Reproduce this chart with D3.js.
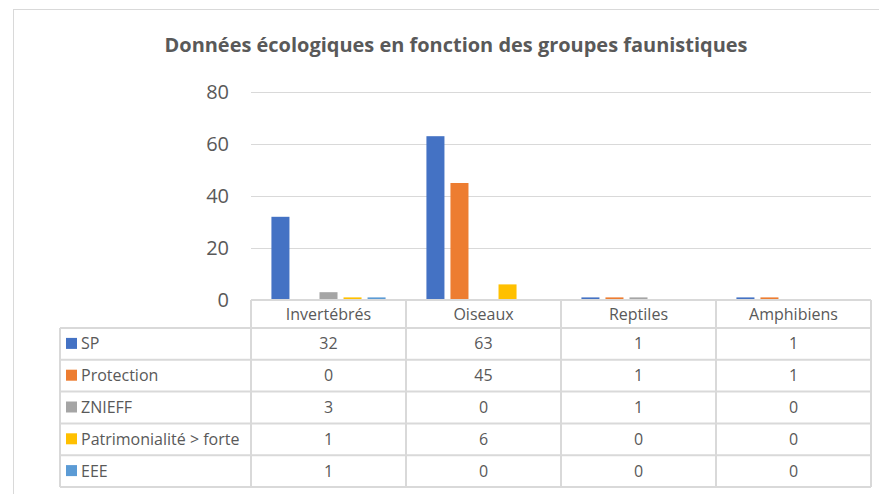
<!DOCTYPE html>
<html>
<head>
<meta charset="utf-8">
<script src="https://cdn.jsdelivr.net/npm/d3@7"></script>
<style>
  body { margin: 0; background: #fff; }
  text { font-family: "Open Sans", sans-serif; fill: #595959; }
</style>
</head>
<body>
<div id="chart"></div>
<script>
// Data
const groups = ["Invertébrés", "Oiseaux", "Reptiles", "Amphibiens"];
const seriesNames = ["SP", "Protection", "ZNIEFF", "Patrimonialité > forte", "EEE"];
const sp = [32, 63, 1, 1];
const protection = [0, 45, 1, 1];
const znieff = [3, 0, 1, 0];
const patrimonialite = [1, 6, 0, 0];
const eee = [1, 0, 0, 0];
const yTicks = [0, 20, 40, 60, 80];
const colors = ["#4472C4", "#ED7D31", "#A5A5A5", "#FFC000", "#5B9BD5"];

const values = [sp, protection, znieff, patrimonialite, eee];

const W = 879, H = 494;
const plot = { left: 251, right: 871, top: 92, bottom: 300 };
const tableLeft = 60, rowH = 31.8, headerH = 28;

const svg = d3.select("#chart").append("svg")
    .attr("width", W).attr("height", H);

// Outer chart border
svg.append("rect")
    .attr("x", 13.5).attr("y", 9.5)
    .attr("width", W).attr("height", H)
    .attr("fill", "none").attr("stroke", "#d9d9d9");

// Title
svg.append("text")
    .attr("x", 456).attr("y", 52)
    .attr("text-anchor", "middle")
    .style("font-size", "19px").style("font-weight", "bold")
    .attr("textLength", 583).attr("lengthAdjust", "spacingAndGlyphs")
    .text("Données écologiques en fonction des groupes faunistiques");

// Scales
const x0 = d3.scaleBand().domain(groups).range([plot.left, plot.right]);
const x1 = d3.scaleBand().domain(seriesNames).range([0, x0.bandwidth()])
    .paddingInner(0.25).paddingOuter(0.85);
const y = d3.scaleLinear().domain([0, 80]).range([plot.bottom, plot.top]);

// Gridlines
svg.append("g").selectAll("line").data(yTicks).join("line")
    .attr("x1", plot.left).attr("x2", plot.right)
    .attr("y1", d => y(d) + 0.5).attr("y2", d => y(d) + 0.5)
    .attr("stroke", "#d9d9d9");

// Y axis labels
svg.append("g").selectAll("text").data(yTicks).join("text")
    .attr("x", 229).attr("y", d => y(d) + 7)
    .attr("text-anchor", "end")
    .style("font-size", "20px")
    .text(d => d);

// Bars
const barData = [];
groups.forEach((g, gi) => {
    seriesNames.forEach((s, si) => {
        barData.push({ group: g, series: s, value: values[si][gi], color: colors[si] });
    });
});
svg.append("g").selectAll("rect").data(barData.filter(d => d.value > 0)).join("rect")
    .attr("x", d => x0(d.group) + x1(d.series))
    .attr("width", x1.bandwidth())
    .attr("y", d => y(d.value))
    .attr("height", d => y(0) - y(d.value))
    .attr("fill", d => d.color);

// Data table
const tbl = svg.append("g");
const lineColor = "#d9d9d9";
const tableBottom = plot.bottom + headerH + rowH * seriesNames.length;

// Header row (categories)
tbl.selectAll(".hdr").data(groups).join("text")
    .attr("x", d => x0(d) + x0.bandwidth() / 2)
    .attr("y", plot.bottom + 20)
    .attr("text-anchor", "middle")
    .style("font-size", "16px")
    .text(d => d);

// Horizontal lines
const hLines = [plot.bottom + headerH];
seriesNames.forEach((s, i) => hLines.push(plot.bottom + headerH + rowH * (i + 1)));
tbl.selectAll(".h").data(hLines).join("line")
    .attr("x1", tableLeft).attr("x2", plot.right)
    .attr("y1", d => d).attr("y2", d => d)
    .attr("stroke", lineColor).attr("stroke-width", 2);
tbl.append("line")
    .attr("x1", plot.left).attr("x2", plot.right)
    .attr("y1", plot.bottom).attr("y2", plot.bottom)
    .attr("stroke", lineColor).attr("stroke-width", 2);

// Vertical lines
const vLines = groups.map(g => x0(g)).concat([plot.right]);
tbl.selectAll(".v").data(vLines).join("line")
    .attr("x1", d => d).attr("x2", d => d)
    .attr("y1", plot.bottom).attr("y2", tableBottom)
    .attr("stroke", lineColor).attr("stroke-width", 2);
tbl.append("line")
    .attr("x1", tableLeft).attr("x2", tableLeft)
    .attr("y1", plot.bottom + headerH).attr("y2", tableBottom)
    .attr("stroke", lineColor).attr("stroke-width", 2);

// Rows: legend key + values
seriesNames.forEach((s, si) => {
    const cy = plot.bottom + headerH + rowH * si + rowH / 2;
    tbl.append("rect")
        .attr("x", 66).attr("y", cy - 6)
        .attr("width", 11).attr("height", 11)
        .attr("fill", colors[si]);
    tbl.append("text")
        .attr("x", 81).attr("y", cy + 5.5)
        .style("font-size", "16px")
        .text(s);
    groups.forEach((g, gi) => {
        tbl.append("text")
            .attr("x", x0(g) + x0.bandwidth() / 2)
            .attr("y", cy + 5.5)
            .attr("text-anchor", "middle")
            .style("font-size", "16px")
            .text(values[si][gi]);
    });
});
</script>
</body>
</html>
